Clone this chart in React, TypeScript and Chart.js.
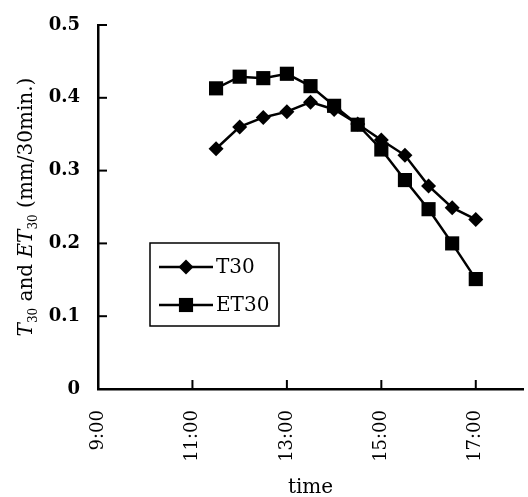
import React, { useEffect, useRef } from "react";
import { Chart, registerables } from "chart.js";

Chart.register(...registerables);

const timeHours = [11.5, 12, 12.5, 13, 13.5, 14, 14.5, 15, 15.5, 16, 16.5, 17];
const t30 = [0.33, 0.36, 0.373, 0.381, 0.394, 0.384, 0.364, 0.342, 0.321, 0.279, 0.249, 0.233];
const et30 = [0.413, 0.429, 0.427, 0.433, 0.416, 0.389, 0.363, 0.329, 0.287, 0.247, 0.2, 0.151];
const xTickHours = [9, 11, 13, 15, 17];
const yTickValues = [0, 0.1, 0.2, 0.3, 0.4, 0.5];
const seriesNames = ["T30", "ET30"];

const SERIF = '"DejaVu Serif", "Liberation Serif", serif';

const inwardTicks = {
  id: "inwardTicks",
  afterDraw(chart: any) {
    const ctx = chart.ctx;
    const { left, bottom } = chart.chartArea;
    const xs = chart.scales.x;
    const ys = chart.scales.y;
    ctx.save();
    ctx.strokeStyle = "#000";
    ctx.lineWidth = 2;
    yTickValues.forEach((v) => {
      if (v === 0) return;
      const py = ys.getPixelForValue(v);
      ctx.beginPath();
      ctx.moveTo(left, py);
      ctx.lineTo(left + 9, py);
      ctx.stroke();
    });
    xTickHours.forEach((h) => {
      if (h === xTickHours[0]) return;
      const px = xs.getPixelForValue(h);
      ctx.beginPath();
      ctx.moveTo(px, bottom);
      ctx.lineTo(px, bottom - 9);
      ctx.stroke();
    });
    ctx.restore();
  },
};

const yTitle = {
  id: "yTitle",
  afterDraw(chart: any) {
    const ctx = chart.ctx;
    const { top, bottom } = chart.chartArea;
    const cy = (top + bottom) / 2;
    const big = `20px ${SERIF}`;
    const ital = `italic 20px ${SERIF}`;
    const sub = `12px ${SERIF}`;
    const parts = [
      { t: "T", f: ital, dy: 0 },
      { t: "30", f: sub, dy: 5 },
      { t: " and ", f: big, dy: 0 },
      { t: "ET", f: ital, dy: 0 },
      { t: "30", f: sub, dy: 5 },
      { t: " (mm/30min.)", f: big, dy: 0 },
    ];
    ctx.save();
    let total = 0;
    parts.forEach((p) => {
      ctx.font = p.f;
      total += ctx.measureText(p.t).width;
    });
    ctx.translate(25, cy);
    ctx.rotate(-Math.PI / 2);
    ctx.fillStyle = "#000";
    ctx.textBaseline = "alphabetic";
    ctx.textAlign = "left";
    let x = -total / 2;
    parts.forEach((p) => {
      ctx.font = p.f;
      ctx.fillText(p.t, x, 7 + p.dy);
      x += ctx.measureText(p.t).width;
    });
    ctx.restore();
  },
};

const boxLegend = {
  id: "boxLegend",
  afterDraw(chart: any) {
    const ctx = chart.ctx;
    const bx = 150, by = 243, bw = 129, bh = 83;
    ctx.save();
    ctx.fillStyle = "#fff";
    ctx.fillRect(bx, by, bw, bh);
    ctx.strokeStyle = "#000";
    ctx.lineWidth = 1.5;
    ctx.strokeRect(bx, by, bw, bh);
    const rows = [by + 24, by + 62];
    chart.data.datasets.forEach((ds: any, i: number) => {
      const y = rows[i];
      ctx.strokeStyle = "#000";
      ctx.lineWidth = 2.5;
      ctx.beginPath();
      ctx.moveTo(bx + 9, y);
      ctx.lineTo(bx + 63, y);
      ctx.stroke();
      const cx = bx + 36;
      ctx.fillStyle = "#000";
      ctx.beginPath();
      if (ds.pointStyle === "rectRot") {
        const r = ds.pointRadius;
        ctx.moveTo(cx, y - r);
        ctx.lineTo(cx + r, y);
        ctx.lineTo(cx, y + r);
        ctx.lineTo(cx - r, y);
        ctx.closePath();
      } else {
        const s = ds.pointRadius * Math.SQRT1_2;
        ctx.rect(cx - s, y - s, 2 * s, 2 * s);
      }
      ctx.fill();
      ctx.font = `20px ${SERIF}`;
      ctx.textBaseline = "middle";
      ctx.textAlign = "left";
      ctx.fillText(ds.label, bx + 66, y + 1);
    });
    ctx.restore();
  },
};

export default function App() {
  const ref = useRef<HTMLCanvasElement>(null);
  useEffect(() => {
    const chart = new Chart(ref.current!, {
      type: "line",
      data: {
        datasets: [
          {
            label: seriesNames[0],
            data: timeHours.map((h, i) => ({ x: h, y: t30[i] })),
            borderColor: "#000",
            backgroundColor: "#000",
            borderWidth: 2.5,
            pointStyle: "rectRot",
            pointRadius: 7.5,
            pointBorderWidth: 0,
            tension: 0,
          },
          {
            label: seriesNames[1],
            data: timeHours.map((h, i) => ({ x: h, y: et30[i] })),
            borderColor: "#000",
            backgroundColor: "#000",
            borderWidth: 2.5,
            pointStyle: "rect",
            pointRadius: 10,
            pointBorderWidth: 0,
            tension: 0,
          },
        ],
      },
      options: {
        responsive: false,
        animation: false,
        devicePixelRatio: 1,
        layout: { autoPadding: false, padding: { top: 25, right: 5, left: 0, bottom: 0 } },
        plugins: { legend: { display: false }, tooltip: { enabled: false } },
        scales: {
          x: {
            type: "linear",
            min: 9,
            max: 18,
            afterBuildTicks: (scale: any) => {
              scale.ticks = xTickHours.map((v) => ({ value: v }));
            },
            afterFit: (scale: any) => {
              scale.height = 108;
              scale.paddingLeft = 0;
              scale.paddingRight = 0;
            },
            grid: { display: false, drawTicks: false },
            border: { display: true, color: "#000", width: 2.5 },
            ticks: {
              color: "#000",
              font: { family: SERIF, size: 18 },
              minRotation: 90,
              maxRotation: 90,
              padding: 21,
              autoSkip: false,
              callback: (v: any) => `${v}:00`,
            },
            title: {
              display: true,
              text: "time",
              color: "#000",
              font: { family: SERIF, size: 20 },
              padding: { top: 0, bottom: -3 },
            },
          },
          y: {
            min: 0,
            max: 0.5,
            afterBuildTicks: (scale: any) => {
              scale.ticks = yTickValues.map((v) => ({ value: v }));
            },
            afterFit: (scale: any) => {
              scale.width = 98;
              scale.paddingTop = 0;
              scale.paddingBottom = 0;
            },
            grid: { display: false, drawTicks: false },
            border: { display: true, color: "#000", width: 2.5 },
            ticks: {
              color: "#000",
              font: { family: SERIF, size: 18, weight: "bold" },
              padding: 18,
              callback: (v: any) => (v === 0 ? "0" : Number(v).toFixed(1)),
            },
          },
        },
      },
      plugins: [inwardTicks, yTitle, boxLegend],
    });
    return () => chart.destroy();
  }, []);
  return (
    <div style={{ position: "absolute", left: 0, top: 0, width: 528, height: 497, background: "#fff" }}>
      <canvas ref={ref} width={528} height={497} />
    </div>
  );
}
